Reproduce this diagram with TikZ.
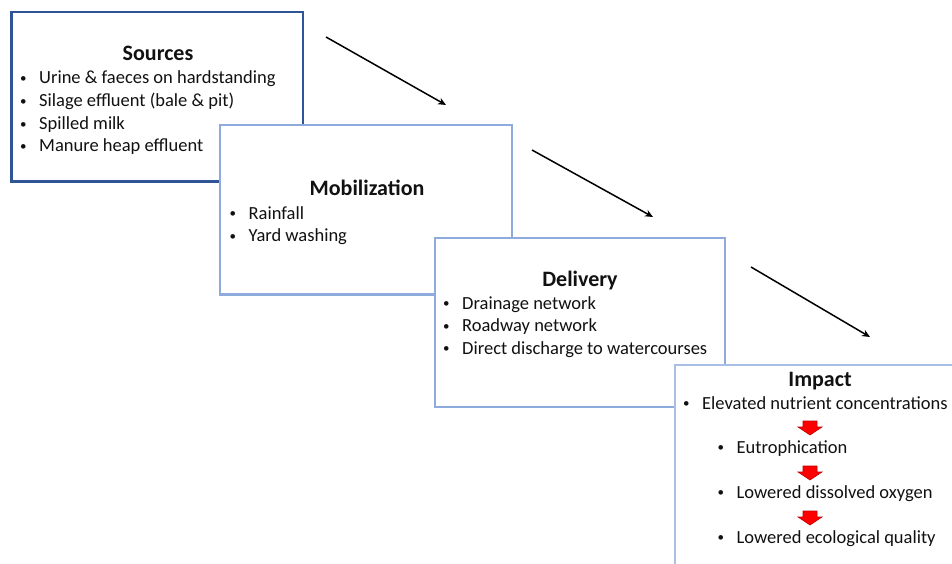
\documentclass[tikz,border=0pt]{standalone}
\usepackage{fontspec}
\setmainfont{Carlito}
\usetikzlibrary{arrows.meta}
\definecolor{darkblue}{HTML}{2F5597}
\definecolor{lightblue}{HTML}{8FAADC}
\definecolor{lighterblue}{HTML}{A9BFE6}
\definecolor{arrowred}{HTML}{FF0000}
\definecolor{arrowedge}{HTML}{C00000}
\definecolor{textcol}{HTML}{111111}
\tikzset{
  boxdark/.style={draw=darkblue, line width=2.6pt, fill=white},
  boxlight/.style={draw=lightblue, line width=2.6pt, fill=white},
  boxlighter/.style={draw=lighterblue, line width=2.6pt, fill=white},
  title/.style={font=\fontsize{22}{26}\selectfont\bfseries, text=textcol, anchor=base, inner sep=0pt},
  item/.style={font=\fontsize{18.5}{22.7}\selectfont, text=textcol, anchor=base west, inner sep=0pt},
  flowarrow/.style={line width=1.5pt, -{Stealth[length=8pt,width=7pt]}},
  redarrow/.style={fill=arrowred, draw=arrowedge, line width=0.6pt},
}
\newcommand{\bul}[1]{\makebox[19pt][l]{\raisebox{1.2pt}{\fontsize{13}{13}\selectfont •}}#1}
\begin{document}
\begin{tikzpicture}[x=1pt,y=-1pt]
\useasboundingbox (0,0) rectangle (952,564);
\clip (0,0) rectangle (952,564);
\fill[white] (0,0) rectangle (952,564);

% Sources
\draw[boxdark] (11.5,12) rectangle (303,181.5);
\node[title] (srcT) at (158,61) {Sources};
\node[item] (src1) at (20,84) {\bul{Urine \& faeces on hardstanding}};
\node[item] (src2) at (20,106.7) {\bul{Silage effluent (bale \& pit)}};
\node[item] (src3) at (20,129.4) {\bul{Spilled milk}};
\node[item] (src4) at (20,152) {\bul{Manure heap effluent}};

% Mobilization
\draw[boxlight] (220,125) rectangle (512,294.5);
\node[title] (mobT) at (367,196) {Mobilization};
\node[item] (mob1) at (229.5,219) {\bul{Rainfall}};
\node[item] (mob2) at (229.5,241.7) {\bul{Yard washing}};

% Delivery
\draw[boxlight] (435,238) rectangle (725,407);
\node[title] (delT) at (580,286.5) {Delivery};
\node[item] (del1) at (443,309) {\bul{Drainage network}};
\node[item] (del2) at (443,331.5) {\bul{Roadway network}};
\node[item] (del3) at (443,354) {\bul{Direct discharge to watercourses}};

% Impact
\draw[boxlighter] (675,365) rectangle (980,600);
\node[title] (impT) at (820,386) {Impact};
\node[item] (imp1) at (683,409) {\bul{Elevated nutrient concentrations}};
\node[item] (imp2) at (717.5,453) {\bul{Eutrophication}};
\node[item] (imp3) at (717.5,498) {\bul{Lowered dissolved oxygen}};
\node[item] (imp4) at (717.5,543) {\bul{Lowered ecological quality}};

% red block arrows
\foreach \t in {421,466,511}{
  \draw[redarrow] (803,\t) -- (817,\t) -- (817,\t+6) -- (822,\t+6) -- (810,\t+14) -- (798,\t+6) -- (803,\t+6) -- cycle;
}

% flow arrows
\coordinate (a1s) at (326,37);
\coordinate (a1e) at (446,105);
\coordinate (a2s) at (532,150);
\coordinate (a2e) at (653,217);
\coordinate (a3s) at (751,267);
\coordinate (a3e) at (870,337);
\draw[flowarrow] (a1s) -- (a1e);
\draw[flowarrow] (a2s) -- (a2e);
\draw[flowarrow] (a3s) -- (a3e);
\end{tikzpicture}
\end{document}
